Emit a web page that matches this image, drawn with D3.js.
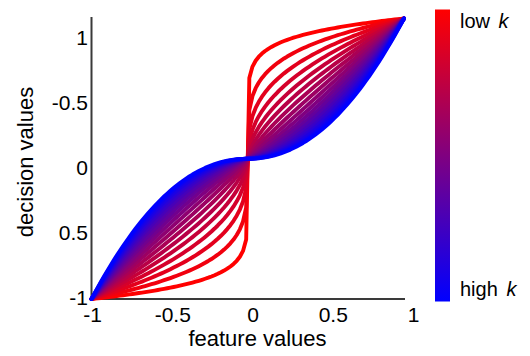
<!DOCTYPE html>
<html>
<head>
<meta charset="utf-8">
<script src="https://cdn.jsdelivr.net/npm/d3@7"></script>
<style>
  html, body { margin: 0; padding: 0; background: #fff; }
  svg { display: block; font-family: "Liberation Sans", Arial, sans-serif; }
</style>
</head>
<body>
<svg id="chart" width="530" height="356"></svg>
<script>
// Shape parameter k of each decision curve, from low k (red) to high k (blue)
const kValues = [0.12, 0.23, 0.34, 0.45, 0.56, 0.67, 0.78, 0.89, 1.0, 1.11,
                 1.22, 1.33, 1.44, 1.55, 1.66, 1.77, 1.88, 2.0, 2.1];
// Feature grid on which each curve is evaluated (100 samples on [-1, 1])
const featureValues = d3.range(100).map(i => -1 + 2 * i / 99);
// Tick labels as printed along each axis
const xTickLabels = ["-1", "-0.5", "0", "0.5", "1"];
const yTickLabels = ["1", "-0.5", "0", "0.5", "-1"];
const legendLabels = ["low", "high"];

// Decision value for feature x under shape parameter k
const decision = (x, k) => Math.sign(x) * Math.pow(Math.abs(x), k);

const svg = d3.select("#chart");

const x = d3.scaleLinear().domain([-1, 1]).range([91.5, 404]);
const y = d3.scaleLinear().domain([-1, 1]).range([299, 18.5]);
const color = d3.scaleLinear()
  .domain([0, kValues.length - 1])
  .range(["#ff0000", "#0000ff"])
  .interpolate(d3.interpolateRgb);

// axis lines
svg.append("line")
  .attr("x1", x(-1)).attr("x2", x(-1))
  .attr("y1", 17).attr("y2", 299.5)
  .attr("stroke", "#3a3a3a").attr("stroke-width", 2);
svg.append("line")
  .attr("x1", 90.5).attr("x2", 405)
  .attr("y1", 299).attr("y2", 299)
  .attr("stroke", "#3a3a3a").attr("stroke-width", 2);

// curves, low k first so high-k curves lie on top
const line = d3.line()
  .x(d => x(d[0]))
  .y(d => y(d[1]));

svg.append("g")
  .attr("fill", "none")
  .attr("stroke-width", 3.9)
  .attr("stroke-linejoin", "round")
  .attr("stroke-linecap", "round")
  .selectAll("path")
  .data(kValues)
  .join("path")
  .attr("stroke", (k, i) => color(i))
  .attr("d", k => line(featureValues.map(f => [f, decision(f, k)])));

// tick labels
const xLab = d3.scalePoint().domain(xTickLabels).range([92, 413]);
const yLab = d3.scalePoint().domain(yTickLabels).range([38, 298]);

const gx = svg.append("g")
  .attr("transform", "translate(0,300)")
  .call(d3.axisBottom(xLab).tickSize(0).tickPadding(7));
const gy = svg.append("g")
  .attr("transform", "translate(88,0)")
  .call(d3.axisLeft(yLab).tickSize(0).tickPadding(0));
[gx, gy].forEach(g => {
  g.select(".domain").remove();
  g.selectAll("text")
    .attr("font-family", "'Liberation Sans', Arial, sans-serif")
    .attr("font-size", 21)
    .attr("fill", "#000");
});

// axis titles
svg.append("text")
  .attr("x", 257.5).attr("y", 345.5)
  .attr("text-anchor", "middle")
  .attr("font-size", 22)
  .text("feature values");
svg.append("text")
  .attr("transform", "translate(33,162) rotate(-90)")
  .attr("text-anchor", "middle")
  .attr("font-size", 22)
  .text("decision values");

// colour bar
const defs = svg.append("defs");
const grad = defs.append("linearGradient")
  .attr("id", "kgrad")
  .attr("x1", 0).attr("y1", 0).attr("x2", 0).attr("y2", 1);
grad.selectAll("stop")
  .data([0, 0.5, 1])
  .join("stop")
  .attr("offset", d => d)
  .attr("stop-color", d => color(d * (kValues.length - 1)));

svg.append("rect")
  .attr("x", 435).attr("y", 9.5)
  .attr("width", 15).attr("height", 292)
  .attr("fill", "url(#kgrad)");

const legendY = [28, 296];
legendLabels.forEach((lbl, i) => {
  const t = svg.append("text")
    .attr("x", 460).attr("y", legendY[i])
    .attr("font-size", 20);
  t.append("tspan").text(lbl + " ");
  t.append("tspan").attr("font-style", "italic").attr("dx", 3).text("k");
});
</script>
</body>
</html>
